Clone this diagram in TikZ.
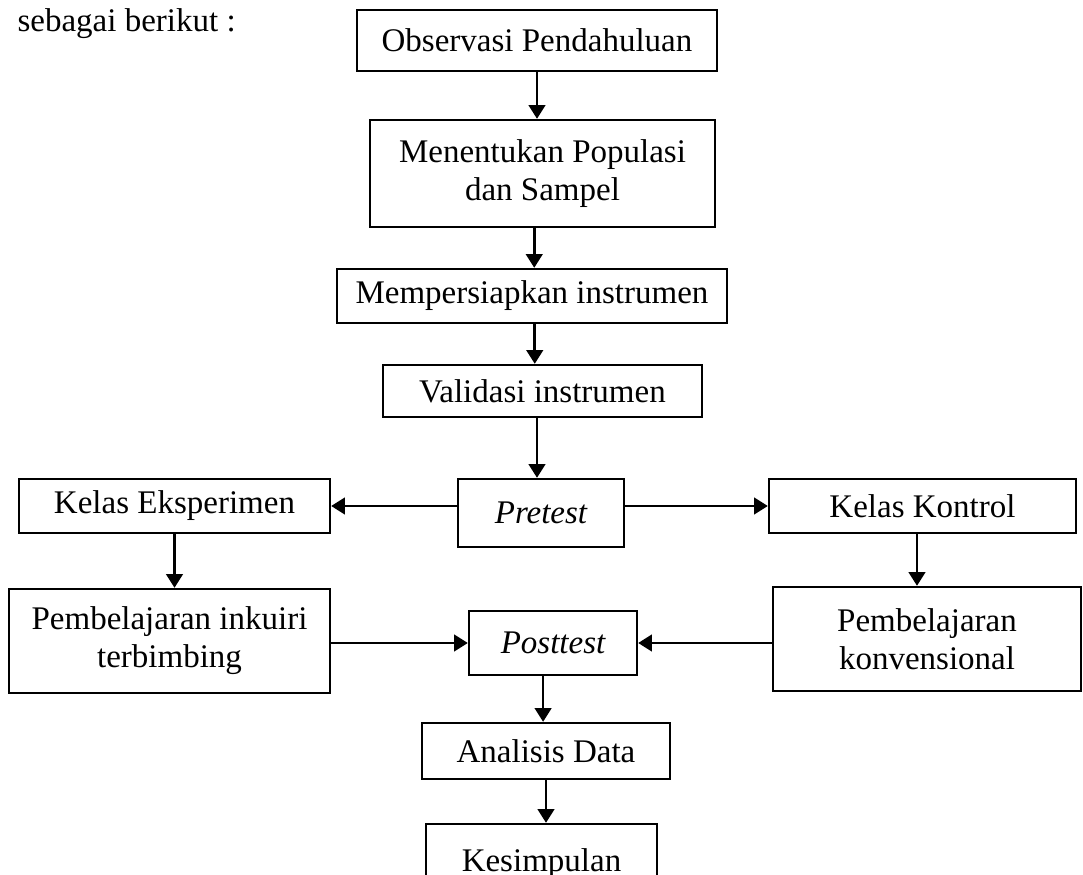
\documentclass[tikz,border=0pt]{standalone}
\usepackage{fontspec}
\setmainfont{Liberation Serif}
\usetikzlibrary{arrows.meta}
\newcommand{\pxu}{0.3636pt}
\tikzset{
  kotak/.style 2 args={draw, line width=0.85pt, minimum width=#1*\pxu, minimum height=#2*\pxu, inner sep=0pt, align=center},
  panah/.style={line width=1pt, -{Triangle[length=5pt,width=6pt]}}
}

\begin{document}
\begin{tikzpicture}[x=0.3636pt, y=-0.3636pt, font=\fontsize{12}{13.8}\selectfont]
  \useasboundingbox (0,0) rectangle (1083,875);
  \clip (0,0) rectangle (1083,875);

  \node[anchor=base west, inner sep=0pt] (judul) at (17,32) {sebagai berikut :};

  \node[kotak={360}{61}] (obs) at (537,40.5) {Observasi Pendahuluan};
  \node[kotak={345}{107}] (pop) at (542.5,173.5) {Menentukan Populasi\\dan Sampel};
  \node[kotak={390}{54}] (prep) at (532,296) {Mempersiapkan instrumen};
  \node[kotak={319}{52}] (val) at (542.5,391) {Validasi instrumen};
  \node[kotak={166}{68}] (pre) at (541,513) {\itshape Pretest};

  \node[kotak={311}{54}] (eks) at (174.5,506) {Kelas Eksperimen};
  \node[kotak={307}{54}] (kon) at (922.5,506) {Kelas Kontrol};

  \node[kotak={321}{104}] (inq) at (169.5,641) {Pembelajaran inkuiri\\terbimbing};
  \node[kotak={308}{104}] (konv) at (927,639) {Pembelajaran\\konvensional};
  \node[kotak={168}{64}] (post) at (553,643) {\itshape Posttest};

  \node[kotak={248}{56}] (ana) at (546,751) {Analisis Data};
  \node[kotak={231}{80}] (kes) at (541.5,864) {Kesimpulan};

  \draw[panah] (obs.south) -- (obs.south |- pop.north);
  \draw[panah] ([xshift=-3pt]pop.south) -- ([xshift=-3pt]pop.south |- prep.north);
  \draw[panah] ([xshift=1pt]prep.south) -- ([xshift=1pt]prep.south |- val.north);
  \draw[panah] ([xshift=-2pt]val.south) -- ([xshift=-2pt]val.south |- pre.north);

  \draw[panah] (pre.west |- eks.east) -- (eks.east);
  \draw[panah] (pre.east |- kon.west) -- (kon.west);

  \draw[panah] (eks.south) -- (eks.south |- inq.north);
  \draw[panah] ([xshift=-2pt]kon.south) -- ([xshift=-2pt]kon.south |- konv.north);

  \draw[panah] (inq.east |- post.west) -- (post.west);
  \draw[panah] (konv.west |- post.east) -- (post.east);

  \draw[panah] ([xshift=-3.6pt]post.south) -- ([xshift=-3.6pt]post.south |- ana.north);
  \draw[panah] (ana.south) -- (ana.south |- kes.north);
\end{tikzpicture}
\end{document}
